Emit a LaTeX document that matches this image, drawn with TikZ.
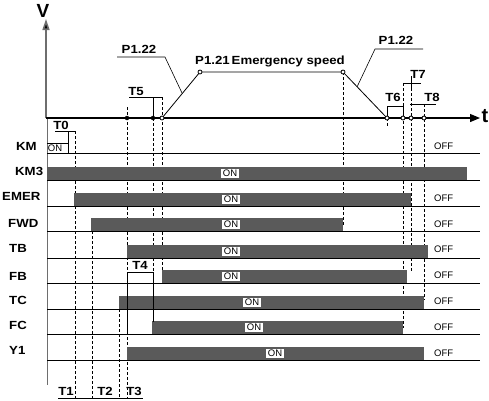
\documentclass[tikz,border=0pt]{standalone}
\usepackage{fontspec}
\setmainfont{Liberation Sans}
\newfontfamily\lblfont[FakeStretch=1.12]{Liberation Sans}
\usetikzlibrary{arrows.meta}
\definecolor{barc}{RGB}{90,90,90}
\definecolor{axisg}{RGB}{110,110,110}
\begin{document}
\begin{tikzpicture}[x=1pt,y=-1pt,
  lbl/.style={font=\lblfont\bfseries\fontsize{11.8}{12}\selectfont, inner sep=0pt, text depth=0pt},
  onbox/.style={fill=white, inner xsep=1.5pt, inner ysep=0.8pt, font=\fontsize{9.5}{9.5}\selectfont, text depth=0pt},
  offlbl/.style={font=\fontsize{9.5}{9.5}\selectfont, inner sep=0pt, anchor=west, text depth=0pt},
  sigbar/.style={fill=barc, draw=none},
  baseln/.style={line width=0.6pt},
  dsh/.style={dash pattern=on 3pt off 2pt, line width=0.6pt},
  solidtick/.style={line width=0.7pt},
  fdot/.style={circle, draw=black, fill=black, inner sep=0pt, minimum size=4pt},
  odot/.style={circle, draw=black, line width=0.8pt, fill=white, inner sep=0pt, minimum size=4pt}]
\useasboundingbox (0,0) rectangle (489,400);

% ---------- axes ----------
\coordinate (O) at (46,118);
\coordinate (Vtop) at (46,19);
\coordinate (Tend) at (480,118);
\coordinate (Lbot) at (47,385);
\draw[axisg, line width=0.9pt] (47,118) -- (Lbot);
\draw[axisg, line width=1.6pt, -{Triangle[length=11pt,width=7pt,fill=black]}] (O) -- (Vtop);
\draw[line width=1.2pt, -{Triangle[length=10pt,width=8pt]}] (O) -- (Tend);
\node[font=\bfseries\fontsize{19}{19}\selectfont, inner sep=0pt] (Vlbl) at (43,11) {V};
\node[font=\bfseries\fontsize{20}{20}\selectfont, inner sep=0pt] (tlbl) at (485,116) {t};

% ---------- row baselines ----------
\foreach \yb in {180,206,231,258,283,309,334,360}
  \draw[baseln] (47,\yb) coordinate (bl-\yb) -- (480,\yb) coordinate (br-\yb);
\draw[baseln] (47,153) coordinate (kml) -- (480,153) coordinate (kmr);

% ---------- vertical dashed time lines ----------
\draw[dsh] (75,131) coordinate (d75a) -- (75,398) coordinate (d75b);
\draw[dsh] (92,231) coordinate (d92a) -- (92,398) coordinate (d92b);
\draw[dsh] (119,309) coordinate (d119a) -- (119,398) coordinate (d119b);
\draw[dsh] (127,107) coordinate (d127a) -- (127,398) coordinate (d127b);
\draw[dsh] (153,118) coordinate (d153a) -- (153,272) coordinate (d153b);
\draw[dsh] (162,97) coordinate (d162a) -- (162,271) coordinate (d162b);
\draw[dsh] (343,72) coordinate (d343a) -- (343,225) coordinate (d343b);
\draw[dsh] (387,118) coordinate (d387a) -- (387,127) coordinate (d387b);
\draw[dsh] (403,106) coordinate (d403a) -- (403,328) coordinate (d403b);
\draw[dsh] (411,83) coordinate (d411a) -- (411,271) coordinate (d411b);
\draw[dsh] (424,104) coordinate (d424a) -- (424,300) coordinate (d424b);
\draw[dsh] (403,83) -- (403,106);

% ---------- KM ----------
\draw[line width=0.6pt] (47,143) coordinate (kmtl) -| (68,153) coordinate (kmbr);
\node[font=\fontsize{9.5}{9.5}\selectfont, inner sep=0pt, text depth=0pt] (onKM) at (55,148.5) {ON};
\node[lbl, anchor=west] (lKM) at (16,146.5) {KM};
\node[offlbl] (offKM) at (434,146.5) {OFF};

% ---------- bar rows ----------
\foreach \nm/\lx/\ly/\yb/\st/\en/\onx in {
  KM3/15/171.5/180/47/467/230,
  EMER/2/196.5/206/74/411/231,
  FWD/8/223/231/91/343/231,
  TB/9/248.5/258/127/428/231,
  FB/9/276/283/162/407/231,
  TC/9/300/309/119/424/252,
  FC/9/325.5/334/152/403/254,
  Y1/9/350.5/360/127/424/275}{
  \fill[sigbar] (\st,\yb-13) coordinate (bs-\nm) rectangle (\en,\yb) coordinate (be-\nm);
  \node[onbox] (on-\nm) at (\onx,\yb-6.5) {ON};
  \node[lbl, anchor=west] (l-\nm) at (\lx,\ly) {\nm};
}
\foreach \nm/\offy in {EMER/198.5, FWD/224.5, TB/249, FB/275.5, TC/301, FC/327, Y1/353}
  \node[offlbl] (off-\nm) at (434,\offy) {OFF};

% ---------- T4 box ----------
\draw[line width=0.7pt] (127,334) coordinate (t4bl) -- (127,272) coordinate (t4tl) -- (153,272) coordinate (t4tr) -- (153,322) coordinate (t4br);
\node[lbl] (T4) at (140,265) {T4};

% ---------- speed profile ----------
\coordinate (p0) at (162,118);
\coordinate (p1) at (200,72);
\coordinate (p2) at (343,72);
\coordinate (p3) at (387,118);
\draw[line width=0.8pt] (p0) -- (p1) -- (p2) -- (p3);

% P1.22 left
\node[lbl] (P122a) at (139,49) {P1.22};
\coordinate (u1a) at (117,57);
\coordinate (u1b) at (165,57);
\coordinate (u1c) at (182,93);
\draw[line width=0.6pt] (u1a) -- (u1b) -- (u1c);
% P1.21
\node[lbl, anchor=west] (P121) at (195,60.5) {P1.21\,Emergency speed};
% P1.22 right
\node[lbl] (P122b) at (396,40) {P1.22};
\coordinate (u2a) at (423,49);
\coordinate (u2b) at (375,49);
\coordinate (u2c) at (357,87);
\draw[line width=0.6pt] (u2a) -- (u2b) -- (u2c);

% T0
\node[lbl] (T0) at (61,125.5) {T0};
\draw[solidtick] (55,131) coordinate (t0a) -- (75,131) coordinate (t0b);
\draw[solidtick] (68,131) -- (68,143);
% T5
\node[lbl] (T5) at (136,91) {T5};
\draw[solidtick] (129,97) coordinate (t5a) -- (163,97) coordinate (t5b);
\draw[solidtick] (153,97) -- (153,118);
% T6
\node[lbl] (T6) at (393,97) {T6};
\draw[solidtick] (387,118) -- (387,106) coordinate (t6a) -- (403,106) coordinate (t6b) -- (403,118);
% T7
\node[lbl] (T7) at (418,74) {T7};
\draw[solidtick] (403,83) coordinate (t7a) -- (421,83) coordinate (t7b);
\draw[solidtick] (411,76) -- (411,88);
% T8
\node[lbl] (T8) at (432,97) {T8};
\draw[solidtick] (410,104) coordinate (t8a) -- (436,104) coordinate (t8b);

% bottom T1 T2 T3
\node[lbl] (T1) at (66,391.5) {T1};
\node[lbl] (T2) at (105,391.5) {T2};
\node[lbl] (T3) at (134,391.5) {T3};
\draw[solidtick] (58,398) coordinate (bb1) -- (143,398) coordinate (bb2);

% ---------- dots on time axis ----------
\node[fdot] (c127) at (127,118) {};
\node[fdot] (c153) at (153,118) {};
\node[odot] (c162) at (p0) {};
\node[odot] (c200) at (p1) {};
\node[odot] (c343) at (p2) {};
\node[odot] (c387) at (p3) {};
\node[odot] (c403) at (403,118) {};
\node[odot] (c411) at (411,118) {};
\node[odot] (c424) at (424,118) {};
\end{tikzpicture}
\end{document}
